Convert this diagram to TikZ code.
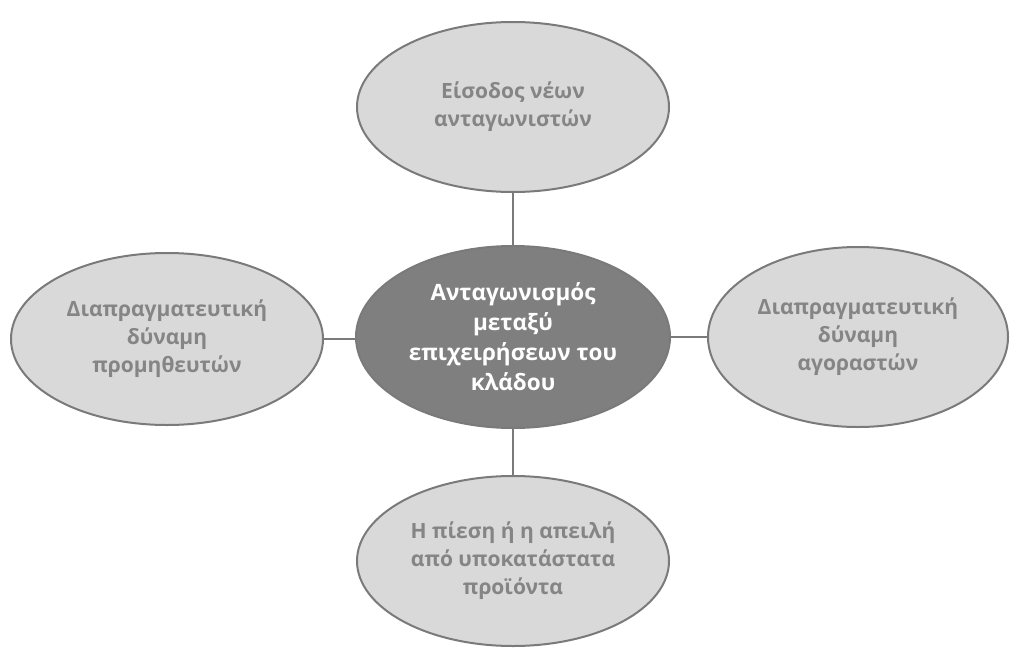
\documentclass[tikz,border=0pt]{standalone}
\usepackage{fontspec}
\setmainfont{Open Sans}
\usetikzlibrary{shapes.geometric}
\definecolor{lightfill}{HTML}{D9D9D9}
\definecolor{edgegray}{HTML}{7A7A7A}
\definecolor{textgray}{HTML}{858585}
\definecolor{darkfill}{HTML}{7F7F7F}
\tikzset{
  outer/.style={ellipse, draw=edgegray, line width=2pt, fill=lightfill,
    text=textgray, font=\fontsize{21}{28}\selectfont\bfseries, align=center, inner sep=0pt},
  core/.style={ellipse, draw=edgegray, line width=2pt, fill=darkfill,
    text=white, font=\fontsize{22.5}{30}\selectfont\bfseries, align=center, inner sep=0pt},
  link/.style={draw=edgegray, line width=2.2pt}
}
\begin{document}
\begin{tikzpicture}[x=1pt,y=-1pt]
\useasboundingbox (0,0) rectangle (1011,650);
\node[core, minimum width=314pt, minimum height=182pt] (c) at (513,337)
  {Ανταγωνισμός\\μεταξύ\\επιχειρήσεων του\\κλάδου};
\node[outer, minimum width=312pt, minimum height=170pt] (t) at (513,107)
  {Είσοδος νέων\\ανταγωνιστών};
\node[outer, minimum width=312pt, minimum height=172pt] (l) at (167,339)
  {Διαπραγματευτική\\δύναμη\\προμηθευτών};
\node[outer, minimum width=300pt, minimum height=180pt] (r) at (858,337)
  {Διαπραγματευτική\\δύναμη\\αγοραστών};
\node[outer, minimum width=312pt, minimum height=170pt] (b) at (513,561)
  {Η πίεση ή η απειλή\\από υποκατάστατα\\προϊόντα};
\draw[link] (t.south) -- (c.north);
\draw[link] (c.south) -- (b.north);
\draw[link] (l.east) -- (l.east -| c.west);
\draw[link] (c.east) -- (r.west);
\end{tikzpicture}
\end{document}
